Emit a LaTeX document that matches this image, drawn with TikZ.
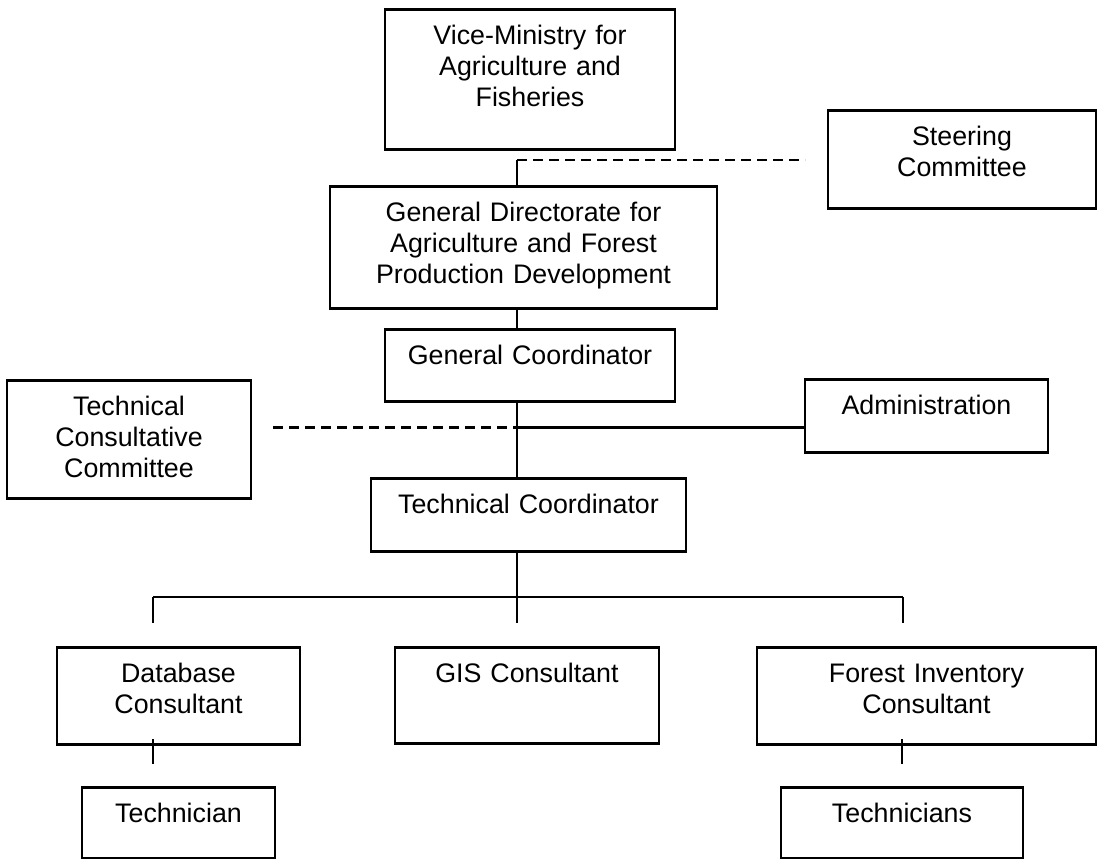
\documentclass[tikz,border=0pt]{standalone}
\usepackage{fontspec}
\setmainfont{Liberation Sans}
\usepackage{tikz}
\tikzstyle{box} = [draw,line width=1.4pt,anchor=north,align=center,inner xsep=0pt,inner ysep=0pt,text height=17.5pt,font=\fontsize{13.4}{15.5}\selectfont]
\tikzstyle{link} = [line width=1.2pt]
\tikzstyle{loose} = [link,dash pattern=on 5pt off 3pt]

\begin{document}
\begin{tikzpicture}[x=0.5pt,y=-0.5pt]
\useasboundingbox (0,0) rectangle (1097,858);

\node[box,text width=145pt,text depth=52.5pt] (vm)   at (530,8)     {Vice-Ministry for\\Agriculture and\\Fisheries};
\node[box,text width=134pt,text depth=31.5pt] (sc)   at (962,109)   {Steering\\Committee};
\node[box,text width=193.5pt,text depth=43.5pt] (gd) at (523.5,185) {General Directorate for\\Agriculture and Forest\\Production Development};
\node[box,text width=145pt,text depth=18.5pt] (gc)   at (530,328)   {General Coordinator};
\node[box,text width=122pt,text depth=41.5pt] (tcc)  at (129,379)   {Technical\\Consultative\\Committee};
\node[box,text width=121.5pt,text depth=19pt] (adm)  at (926.5,378) {Administration};
\node[box,text width=157.5pt,text depth=19pt] (tc)   at (528.5,477) {Technical Coordinator};
\node[box,text width=121.5pt,text depth=31pt] (db)   at (178.5,646) {Database\\Consultant};
\node[box,text width=132pt,text depth=30.5pt] (gis)  at (527,646)   {GIS Consultant};
\node[box,text width=169.5pt,text depth=31pt] (fi)   at (926.5,646) {Forest Inventory\\Consultant};
\node[box,text width=96.5pt,text depth=18pt] (tech)  at (178.5,786) {Technician};
\node[box,text width=121pt,text depth=18pt] (techs)  at (902,786)   {Technicians};

\coordinate (top)  at (517,160);
\coordinate (sce)  at (805,160);
\coordinate (mid)  at (517,427.5);
\coordinate (tcce) at (273,427.5);
\foreach \n/\x in {l/153,m/517,r/903} {
  \coordinate (b\n) at (\x,597);
  \coordinate (t\n) at (\x,623);
}
\coordinate (dbs)  at (153,739);
\coordinate (dbe)  at (153,764);
\coordinate (fis)  at (902,739);
\coordinate (fie)  at (902,764);

\draw[loose] (top) -- (sce);
\draw[link] (top) -- (top |- gd.north);
\draw[link] (top |- gd.south) -- (top |- gc.north);
\draw[link] (top |- gc.south) -- (top |- tc.north);
\draw[link] (mid) -- (adm.west |- mid);
\draw[loose] (tcce) -- (mid);
\draw[link] (top |- tc.south) -- (bm);
\draw[link] (bl) -- (br);
\foreach \n in {l,m,r} \draw[link] (b\n) -- (t\n);
\draw[link] (dbs) -- (dbe);
\draw[link] (fis) -- (fie);
\end{tikzpicture}
\end{document}
